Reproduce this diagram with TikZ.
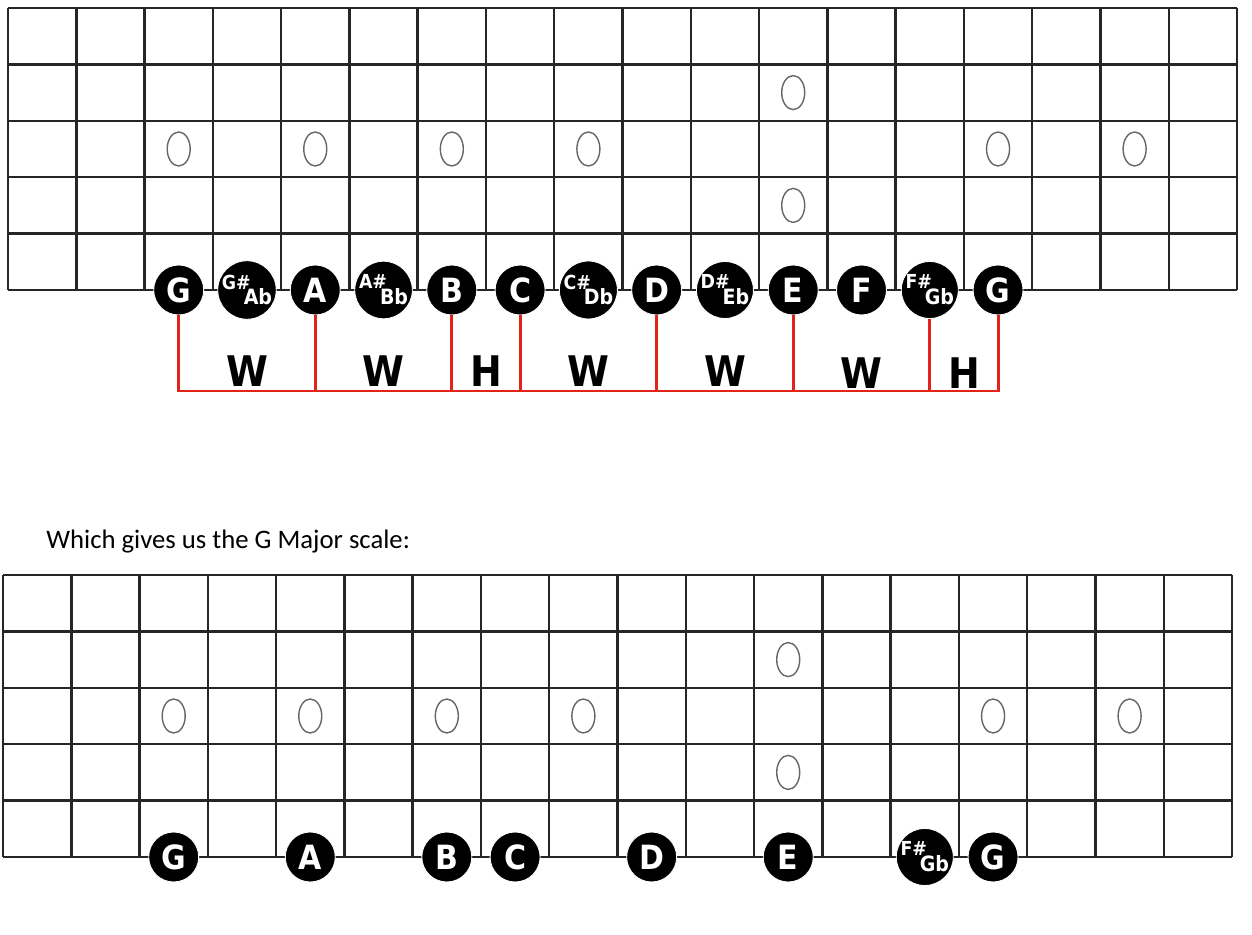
\documentclass[tikz,border=0pt]{standalone}
\usepackage{fontspec}
\setmainfont{Carlito}
\newfontfamily\notefont{DejaVu Sans Condensed}
\usetikzlibrary{calc}
\definecolor{bracketred}{RGB}{226,35,26}
\tikzset{>=stealth,
  fret/.style={line width=1.4pt, black!85},
  inlay/.style={draw=black!60, line width=0.8pt},
  note/.style={circle, fill=black, draw=white, line width=0.5pt, minimum size=1cm, inner sep=0pt,
    text=white, font=\notefont\bfseries\fontsize{19}{19}\selectfont},
  steplbl/.style={font=\notefont\bfseries\fontsize{24}{24}\selectfont},
  scaleline/.style={bracketred, line width=1.7pt}}
\newcommand{\twoname}[2]{\raisebox{3pt}{\fontsize{11}{11}\selectfont #1}\kern-4pt\raisebox{-6pt}{\fontsize{12}{12}\selectfont #2}}

\begin{document}
\begin{tikzpicture}[x=0.02cm, y=-0.02cm]
    \useasboundingbox (0,0) rectangle (1252,935);
    % two necks: left edge / top edge
    \foreach \xo/\yo in {8/8, 3/575} {
        \foreach \c in {0,...,18}
            \draw [fret] (\xo+\c*68.28,\yo) -- (\xo+\c*68.28,\yo+282);
        \foreach \r in {0,...,5}
            \draw [fret] (\xo,\yo+\r*56.4) -- (\xo+1229,\yo+\r*56.4);
        \foreach \c/\r in {2/2, 4/2, 6/2, 8/2, 11/1, 11/3, 14/2, 16/2}
            \draw [inlay] (\xo+68.28*\c+34.14,\yo+56.4*\r+28.2) ellipse [x radius=11.5, y radius=17];
    }
    % every note on the top neck
    \foreach \c/\n/\t in {2/G/G, 3/Gs/{\twoname{G\#}{Ab}}, 4/A/A, 5/As/{\twoname{A\#}{Bb}}, 6/B/B, 7/C/C,
        8/Cs/{\twoname{C\#}{Db}}, 9/D/D, 10/Ds/{\twoname{D\#}{Eb}}, 11/E/E, 12/F/F, 13/Fs/{\twoname{F\#}{Gb}}, 14/GG/G}
        \node [note] (t\n) at (8+68.28*\c+34.14,290) {\t};
    % steps
    \coordinate (base) at (0,391);
    \draw [scaleline] (tG.south) -- (tG.south |- base) -- (tGG.south |- base) -- (tGG.south);
    \foreach \n in {A, B, C, D, E, Fs}
        \draw [scaleline] (t\n.south) -- (t\n.south |- base);
    \foreach \a/\b/\s in {G/A/W, A/B/W, B/C/H, C/D/W, D/E/W, E/Fs/W, Fs/GG/H}
        \node [steplbl] at ($(t\a.south)!0.5!(t\b.south) + (0,56)$) {\s};
    \node [anchor=base west, inner sep=0pt, font=\fontsize{15.2}{15.2}\selectfont] (caption) at (46,549) {Which gives us the G Major scale:};
    % the major scale on the lower neck
    \foreach \c/\n/\t in {2/G/G, 4/A/A, 6/B/B, 7/C/C, 9/D/D, 11/E/E, 13/Fs/{\twoname{F\#}{Gb}}, 14/GG/G}
        \node [note] (b\n) at (3+68.28*\c+34.14,857) {\t};
\end{tikzpicture}
\end{document}
